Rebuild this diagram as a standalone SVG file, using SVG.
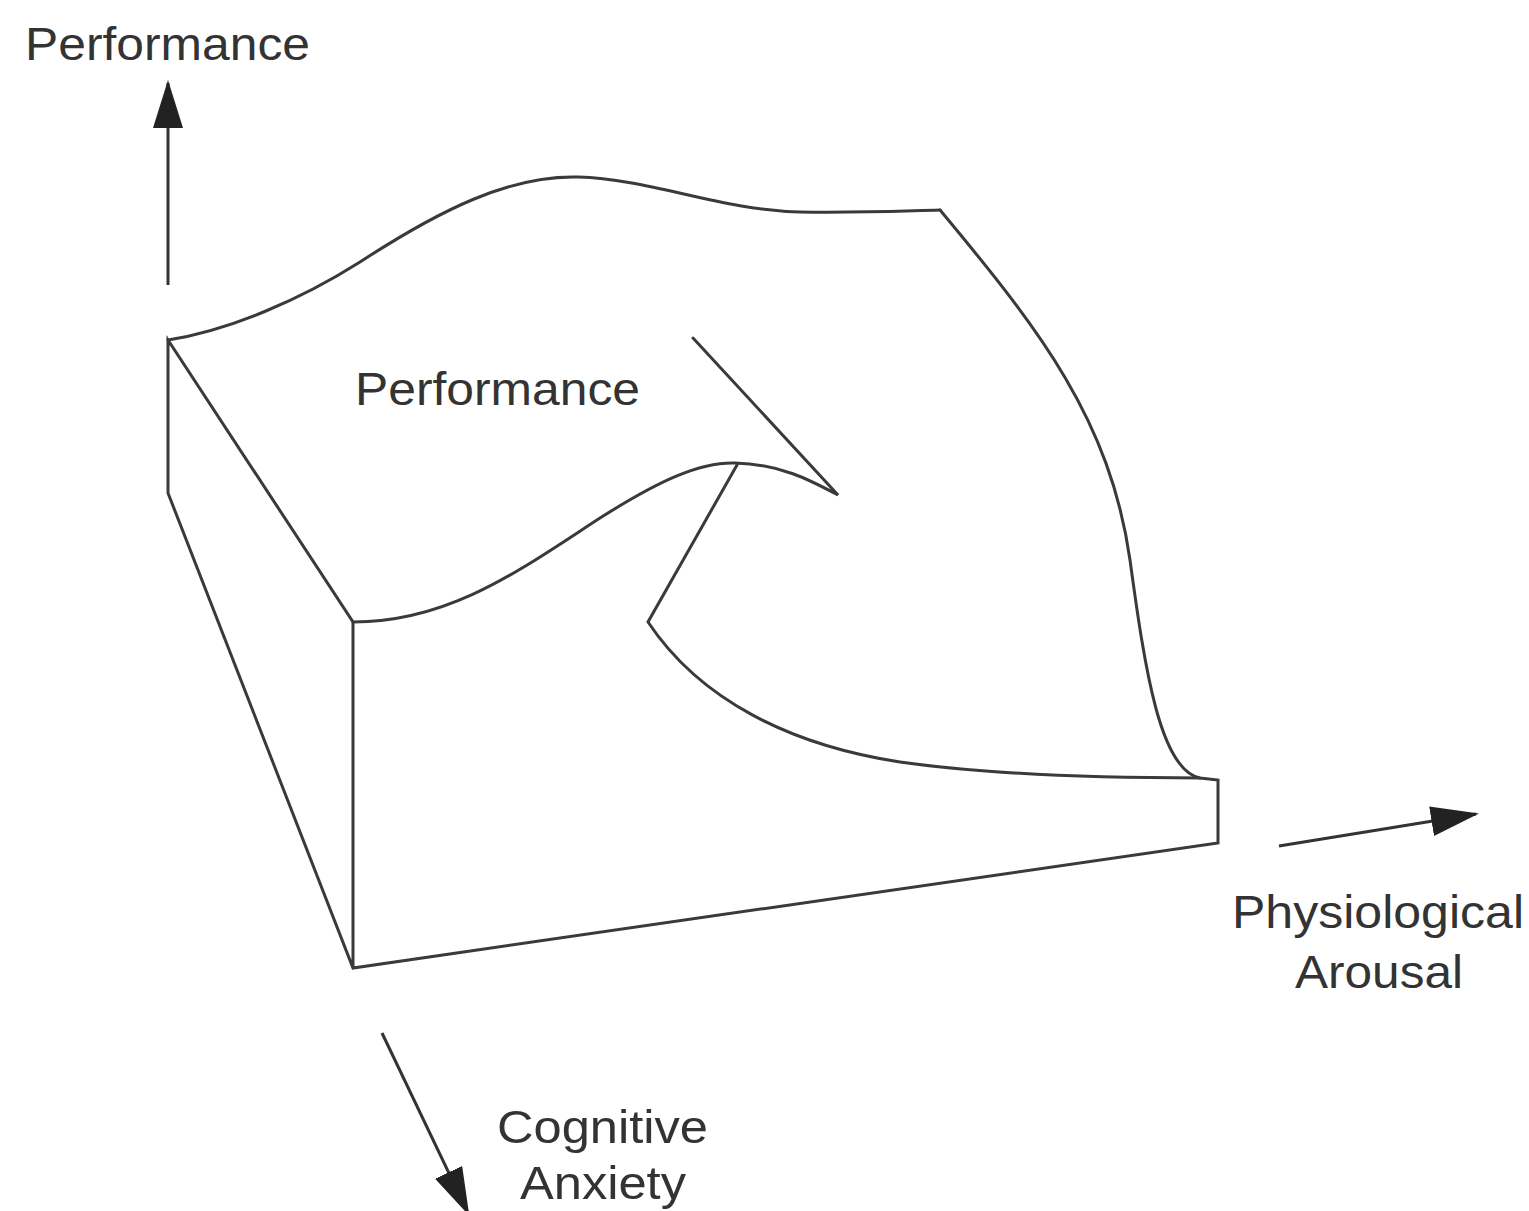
<svg xmlns="http://www.w3.org/2000/svg" width="1529" height="1211" viewBox="0 0 1529 1211">
<style>
.ln{fill:none;stroke:#3a3a3a;stroke-width:3;stroke-linejoin:miter;stroke-linecap:round}
.ax{fill:none;stroke:#333;stroke-width:3}
.t{font-family:"Liberation Sans",Arial,sans-serif;font-size:46px;fill:#333}
</style>
<defs>
<marker id="ah" viewBox="0 0 16 10" refX="15" refY="5" markerWidth="16" markerHeight="10" markerUnits="strokeWidth" orient="auto">
<path d="M0,0 L16,5 L0,10 z" fill="#222"/>
</marker>
</defs>
<rect width="1529" height="1211" fill="#fff"/>
<g id="surface">
<path class="ln" d="M168,340 C230,330 300,300 360,262 C440,210 510,175 578,177 C650,179 720,210 800,212 C860,213 900,211 940,210"/>
<path class="ln" d="M940,210 C1040,330 1110,420 1130,560 C1145,670 1160,770 1200,778 L1218,780 L1218,843 L353,968 L168,493 L168,340 L353,622 L353,968"/>
<path class="ln" d="M353,622 C450,622 520,570 600,518 C660,480 700,462 735,463 C780,464 810,480 838,495 L693,338"/>
<path class="ln" d="M737,465 L648,622 C700,700 790,745 900,762 C1000,776 1120,778 1200,778"/>
</g>
<g id="connectors">
<line class="ax" x1="168" y1="285" x2="168" y2="83" marker-end="url(#ah)"/>
<line class="ax" x1="1279" y1="846" x2="1476" y2="814" marker-end="url(#ah)"/>
<line class="ax" x1="382" y1="1033" x2="468" y2="1213" marker-end="url(#ah)"/>
</g>
<g id="labels">
<text class="t" x="25" y="60" textLength="285" lengthAdjust="spacingAndGlyphs">Performance</text>
<text class="t" x="355" y="405" textLength="285" lengthAdjust="spacingAndGlyphs">Performance</text>
<text class="t" x="1232" y="928" textLength="292" lengthAdjust="spacingAndGlyphs">Physiological</text>
<text class="t" x="1295" y="988" textLength="168" lengthAdjust="spacingAndGlyphs">Arousal</text>
<text class="t" x="497" y="1143" textLength="211" lengthAdjust="spacingAndGlyphs">Cognitive</text>
<text class="t" x="520" y="1199" textLength="166" lengthAdjust="spacingAndGlyphs">Anxiety</text>
</g>
</svg>
